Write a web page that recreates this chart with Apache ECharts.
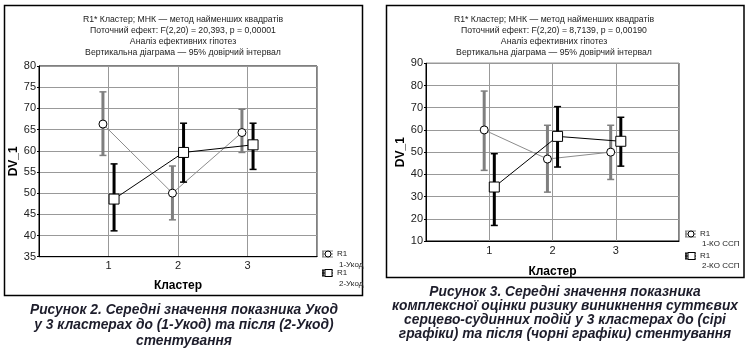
<!DOCTYPE html>
<html>
<head>
<meta charset="utf-8">
<script src="https://cdn.jsdelivr.net/npm/echarts@6/dist/echarts.min.js"></script>
<style>
html,body{margin:0;padding:0;background:#fff;}
#c{width:748px;height:352px;}
</style>
</head>
<body>
<div id="c"></div>
<script>
// ---- data ----
const categories = [1, 2, 3];
const xTickLabels = ['1', '2', '3'];
const xAxisName = 'Кластер';
const yAxisName = 'DV_1';

// Figure 2 (left): 1-Укод (grey), 2-Укод (black)
const f2GreyMean = [66.3, 50.0, 64.3];
const f2GreyLow  = [58.9, 43.7, 59.6];
const f2GreyHigh = [73.9, 56.4, 69.8];
const f2BlackMean = [48.6, 59.6, 61.4];
const f2BlackLow  = [41.1, 52.6, 55.6];
const f2BlackHigh = [56.9, 66.5, 66.5];
const f2YTicks = [35, 80, 5];

// Figure 3 (right): 1-КО ССП (grey), 2-КО ССП (black)
const f3GreyMean = [60.0, 46.9, 50.0];
const f3GreyLow  = [41.8, 32.0, 37.7];
const f3GreyHigh = [77.5, 62.1, 62.1];
const f3BlackMean = [34.3, 57.1, 54.9];
const f3BlackLow  = [17.0, 43.3, 43.7];
const f3BlackHigh = [49.3, 70.5, 65.7];
const f3YTicks = [10, 90, 10];

const f2Title = ['R1* Кластер; МНК — метод найменших квадратів',
  'Поточний ефект: F(2,20) = 20,393, p = 0,00001',
  'Аналіз ефективних гіпотез',
  'Вертикальна діаграма — 95% довірчий інтервал'];
const f3Title = ['R1* Кластер; МНК — метод найменших квадратів',
  'Поточний ефект: F(2,20) = 8,7139, p = 0,00190',
  'Аналіз ефективних гіпотез',
  'Вертикальна діаграма — 95% довірчий інтервал'];
const f2Legend = [['R1', '1-Укод'], ['R1', '2-Укод']];
const f3Legend = [['R1', '1-КО ССП'], ['R1', '2-КО ССП']];
const f2Caption = ['Рисунок 2. Середні значення показника Укод',
  'у 3 кластерах до (1-Укод) та після (2-Укод)',
  'стентування'];
const f3Caption = ['Рисунок 3. Середні значення показника',
  'комплексної оцінки ризику виникнення суттєвих',
  'серцево-судинних подій у 3 кластерах до (сірі',
  'графіки) та після (чорні графіки) стентування'];

// ---- styling ----
const GREY = '#7f7f7f';
const GREY_LINE = '#8c8c8c';
const BLACK = '#000';
const FONT = '"Liberation Sans", Arial, sans-serif';
const DODGE = 0.08;

function errRender(color) {
  return function (params, api) {
    const x = api.value(0), lo = api.value(1), hi = api.value(2);
    const a = api.coord([x, hi]), b = api.coord([x, lo]);
    const cw = 3.5;
    return {
      type: 'group',
      children: [
        {type: 'line', shape: {x1: a[0], y1: a[1], x2: b[0], y2: b[1]}, style: {stroke: color, lineWidth: 3}},
        {type: 'line', shape: {x1: a[0] - cw, y1: a[1], x2: a[0] + cw, y2: a[1]}, style: {stroke: color, lineWidth: 1.5}},
        {type: 'line', shape: {x1: b[0] - cw, y1: b[1], x2: b[0] + cw, y2: b[1]}, style: {stroke: color, lineWidth: 1.5}}
      ]
    };
  };
}

function errData(lo, hi, off) { return categories.map((c, i) => [c + off, lo[i], hi[i]]); }
function meanData(m, off) { return categories.map((c, i) => [c + off, m[i]]); }

function makeAxes(gi, yt) {
  const x = {
    gridIndex: gi, type: 'value', min: 0, max: 4, interval: 1,
    name: xAxisName, nameLocation: 'middle', nameGap: gi === 0 ? 23 : 25,
    nameTextStyle: {fontFamily: FONT, fontSize: 12, fontWeight: 'bold', color: '#000'},
    axisLine: {lineStyle: {color: '#000', width: 1}},
    axisTick: {show: false},
    axisLabel: {fontFamily: FONT, fontSize: 11, color: '#222', margin: 4,
      formatter: v => (v >= 1 && v <= 3) ? xTickLabels[v - 1] : ''},
    splitLine: {show: true, lineStyle: {color: '#999', width: 1}}
  };
  const y = {
    gridIndex: gi, type: 'value', min: yt[0], max: yt[1], interval: yt[2],
    name: yAxisName, nameLocation: 'middle', nameGap: gi === 0 ? 18 : 19, nameRotate: 90,
    nameTextStyle: {fontFamily: FONT, fontSize: 12, fontWeight: 'bold', color: '#000'},
    axisLine: {lineStyle: {color: '#000', width: 1}},
    axisTick: {show: true, length: 2, lineStyle: {color: '#000'}},
    axisLabel: {fontFamily: FONT, fontSize: 11, color: '#222', margin: 3},
    splitLine: {show: true, lineStyle: {color: '#999', width: 1}}
  };
  return [x, y];
}

function seriesFor(gi, gm, gl, gh, bm, bl, bh) {
  return [
    {type: 'custom', xAxisIndex: gi, yAxisIndex: gi, renderItem: errRender(GREY), data: errData(gl, gh, -DODGE), z: 2},
    {type: 'line', xAxisIndex: gi, yAxisIndex: gi, data: meanData(gm, -DODGE), symbol: 'circle', symbolSize: 8,
     lineStyle: {color: GREY_LINE, width: 1}, itemStyle: {color: '#fff', borderColor: '#000', borderWidth: 1}, z: 3, animation: false},
    {type: 'custom', xAxisIndex: gi, yAxisIndex: gi, renderItem: errRender(BLACK), data: errData(bl, bh, DODGE), z: 4},
    {type: 'line', xAxisIndex: gi, yAxisIndex: gi, data: meanData(bm, DODGE), symbol: 'rect', symbolSize: 10,
     lineStyle: {color: '#000', width: 1}, itemStyle: {color: '#fff', borderColor: '#000', borderWidth: 1}, z: 5, animation: false}
  ];
}

function textEl(t, x, y, font, color, align) {
  return {type: 'text', x: x, y: y, style: {text: t, font: font, fill: color || '#000', textAlign: align || 'center', textVerticalAlign: 'middle'}, z: 10};
}

function legendEls(items, x, y0, dy, sub) {
  const els = [];
  items.forEach((it, i) => {
    const y = y0 + i * dy;
    const col = i === 0 ? GREY : BLACK;
    els.push({type: 'line', shape: {x1: x, y1: y - 3, x2: x + 11, y2: y - 3}, style: {stroke: col, lineWidth: 1}});
    els.push({type: 'line', shape: {x1: x, y1: y + 3, x2: x + 11, y2: y + 3}, style: {stroke: col, lineWidth: 1}});
    els.push({type: 'line', shape: {x1: x, y1: y, x2: x + 11, y2: y}, style: {stroke: col, lineWidth: 1}});
    els.push({type: 'line', shape: {x1: x + 1, y1: y - 3, x2: x + 1, y2: y + 3}, style: {stroke: col, lineWidth: 1.5}});
    if (i === 0) {
      els.push({type: 'circle', shape: {cx: x + 6, cy: y, r: 3}, style: {fill: '#fff', stroke: '#000', lineWidth: 1}});
    } else {
      els.push({type: 'rect', shape: {x: x + 3, y: y - 3.5, width: 7, height: 7}, style: {fill: '#fff', stroke: '#000', lineWidth: 1}});
    }
    els.push(textEl(it[0], x + 15, y, '8px ' + FONT, '#222', 'left'));
    els.push(textEl(it[1], x + 17, y + sub, '8px ' + FONT, '#222', 'left'));
  });
  return els;
}

const [x0, y0] = makeAxes(0, f2YTicks);
const [x1, y1] = makeAxes(1, f3YTicks);

const graphics = [
  {type: 'rect', shape: {x: 4.5, y: 5.5, width: 358, height: 290}, style: {fill: 'none', stroke: '#000', lineWidth: 1.5}, z: 1},
  {type: 'rect', shape: {x: 386.5, y: 5.5, width: 357.5, height: 272}, style: {fill: 'none', stroke: '#000', lineWidth: 1.5}, z: 1}
];
const tFont = '8.7px ' + FONT;
f2Title.forEach((t, i) => graphics.push(textEl(t, 183, 20 + i * 11, tFont, '#222')));
f3Title.forEach((t, i) => graphics.push(textEl(t, 554, 20 + i * 11, tFont, '#222')));
legendEls(f2Legend, 322, 254, 19, 11).forEach(e => graphics.push(e));
legendEls(f3Legend, 685, 234, 22, 9.5).forEach(e => graphics.push(e));
const cFont = 'italic bold 13.8px ' + FONT;
const CAP = '#1d1d2b';
f2Caption.forEach((t, i) => graphics.push(textEl(t, 184, 310 + i * 15.5, cFont, CAP)));
f3Caption.forEach((t, i) => graphics.push(textEl(t, 565, 292.5 + i * 14, cFont, CAP)));

const chart = echarts.init(document.getElementById('c'), null, {renderer: 'canvas'});
chart.setOption({
  animation: false,
  backgroundColor: '#fff',
  grid: [
    {left: 39, top: 66, width: 278, height: 190.7, show: true, borderColor: '#000', borderWidth: 1, backgroundColor: '#fff'},
    {left: 426, top: 63.3, width: 253, height: 177.7, show: true, borderColor: '#000', borderWidth: 1, backgroundColor: '#fff'}
  ],
  xAxis: [x0, x1],
  yAxis: [y0, y1],
  series: seriesFor(0, f2GreyMean, f2GreyLow, f2GreyHigh, f2BlackMean, f2BlackLow, f2BlackHigh)
    .concat(seriesFor(1, f3GreyMean, f3GreyLow, f3GreyHigh, f3BlackMean, f3BlackLow, f3BlackHigh)),
  graphic: graphics
});
</script>
</body>
</html>
